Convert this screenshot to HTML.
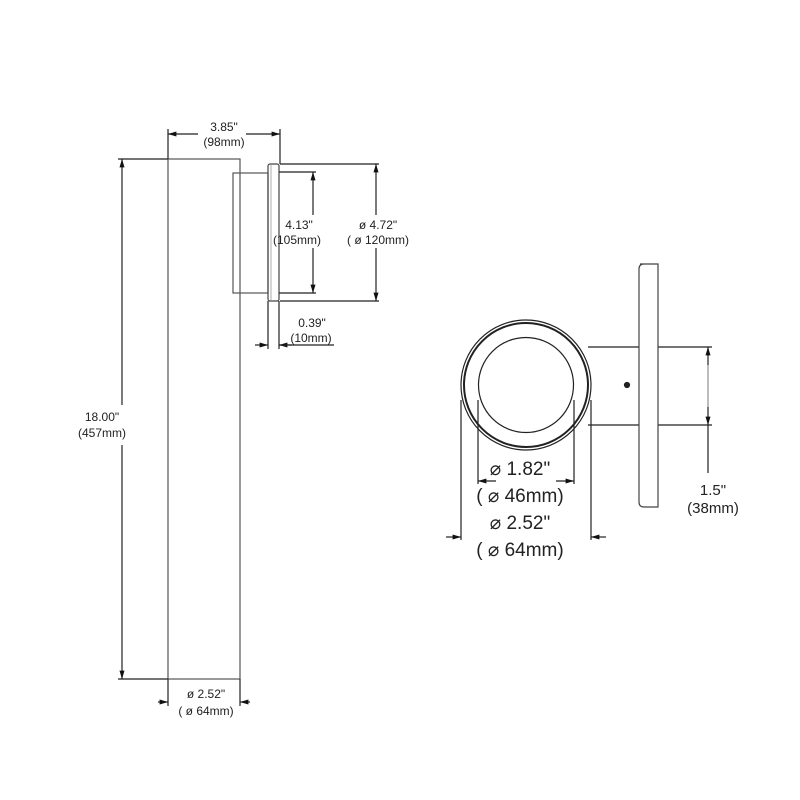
<!DOCTYPE html>
<html><head><style>body{margin:0;background:#fff}svg{display:block}</style></head><body>
<svg width="800" height="800" viewBox="0 0 800 800" xmlns="http://www.w3.org/2000/svg" font-family="'Liberation Sans',sans-serif" fill="none" stroke="#222">
<defs><marker id="a" viewBox="0 0 10 10" refX="10" refY="5" markerWidth="7" markerHeight="7" orient="auto-start-reverse"><path d="M0,2 L10,5 L0,8 z" fill="#111" stroke="none"/></marker></defs>
<g stroke-width="1.2">
<!-- left view -->
<rect x="168" y="159" width="72" height="520" stroke="#555"/>
<rect x="233" y="173" width="35" height="120" stroke="#555"/>
<rect x="268" y="164" width="11" height="137" rx="2" stroke="#444"/>
<line x1="271" y1="164" x2="271" y2="301" stroke="#888" stroke-width="0.7"/>
<!-- 3.85 -->
<line x1="168" y1="129" x2="168" y2="159"/><line x1="280" y1="129" x2="280" y2="164"/>
<line x1="168" y1="134" x2="198" y2="134" marker-start="url(#a)"/><line x1="246" y1="134" x2="280" y2="134" marker-end="url(#a)"/>
<!-- 18.00 -->
<line x1="118" y1="159" x2="168" y2="159"/><line x1="118" y1="679" x2="168" y2="679"/>
<line x1="122" y1="159" x2="122" y2="405" marker-start="url(#a)"/><line x1="122" y1="445" x2="122" y2="679" marker-end="url(#a)"/>
<!-- 4.72 -->
<line x1="280" y1="164" x2="379" y2="164"/><line x1="280" y1="301" x2="379" y2="301"/>
<line x1="376" y1="164" x2="376" y2="215" marker-start="url(#a)"/><line x1="376" y1="248" x2="376" y2="301" marker-end="url(#a)"/>
<!-- 4.13 -->
<line x1="279" y1="172" x2="316" y2="172"/><line x1="279" y1="293" x2="316" y2="293"/>
<line x1="313" y1="172" x2="313" y2="215" marker-start="url(#a)"/><line x1="313" y1="248" x2="313" y2="293" marker-end="url(#a)"/>
<!-- 0.39 -->
<line x1="268" y1="301" x2="268" y2="349"/><line x1="279" y1="301" x2="279" y2="349"/>
<line x1="255" y1="345" x2="268" y2="345" marker-end="url(#a)"/><line x1="292" y1="345" x2="279" y2="345" marker-end="url(#a)"/><line x1="279" y1="345" x2="334" y2="345"/>
<!-- 2.52 bottom -->
<line x1="168" y1="679" x2="168" y2="706"/><line x1="240" y1="679" x2="240" y2="706"/>
<line x1="158" y1="702" x2="168" y2="702" marker-end="url(#a)"/><line x1="250" y1="702" x2="240" y2="702" marker-end="url(#a)"/>
<!-- right view -->
<circle cx="526" cy="385" r="65"/><circle cx="526" cy="385" r="62" stroke-width="2"/>
<circle cx="526" cy="385" r="47.5"/>
<path d="M588,347 H639 M588,425 H639 M658,347 H712 M658,425 H712"/>
<path d="M640,264 H658 V507 H644 Q639,507 639,502 V269 Q639,264 644,264 Z" stroke="#444"/>
<circle cx="627" cy="385" r="2.5" fill="#222"/>
<line x1="708" y1="347" x2="708" y2="365" marker-start="url(#a)"/><line x1="708" y1="407" x2="708" y2="425" marker-end="url(#a)"/>
<line x1="708" y1="365" x2="708" y2="407" stroke-width="0.6"/><line x1="708" y1="425" x2="708" y2="473"/>
<line x1="478" y1="400" x2="478" y2="484"/><line x1="574" y1="400" x2="574" y2="484"/>
<line x1="461" y1="400" x2="461" y2="540"/><line x1="591" y1="400" x2="591" y2="540"/>
<line x1="478" y1="481" x2="496" y2="481" stroke-width="0.8"/><line x1="556" y1="481" x2="574" y2="481" stroke-width="0.8"/>
<line x1="496" y1="481" x2="478" y2="481" marker-end="url(#a)"/><line x1="556" y1="481" x2="574" y2="481" marker-end="url(#a)"/>
<line x1="446" y1="537" x2="461" y2="537" marker-end="url(#a)"/><line x1="606" y1="537" x2="591" y2="537" marker-end="url(#a)"/>
</g>
<g fill="#222" stroke="none" text-anchor="middle">
<text x="224" y="131" font-size="12">3.85"</text><text x="224" y="146" font-size="12">(98mm)</text>
<text x="102" y="421" font-size="12">18.00"</text><text x="102" y="437" font-size="12">(457mm)</text>
<text x="299" y="229" font-size="12">4.13"</text><text x="297" y="244" font-size="12">(105mm)</text>
<text x="378" y="229" font-size="12">ø 4.72"</text><text x="378" y="244" font-size="12">( ø 120mm)</text>
<text x="312" y="327" font-size="12">0.39"</text><text x="311" y="342" font-size="12">(10mm)</text>
<text x="206" y="698" font-size="12">ø 2.52"</text><text x="206" y="715" font-size="12">( ø 64mm)</text>
<text x="520" y="475" font-size="19">⌀ 1.82"</text><text x="520" y="502" font-size="19">( ⌀ 46mm)</text>
<text x="520" y="529" font-size="19">⌀ 2.52"</text><text x="520" y="556" font-size="19">( ⌀ 64mm)</text>
<text x="713" y="495" font-size="15">1.5"</text><text x="713" y="513" font-size="15">(38mm)</text>
</g>
</svg>
</body></html>
